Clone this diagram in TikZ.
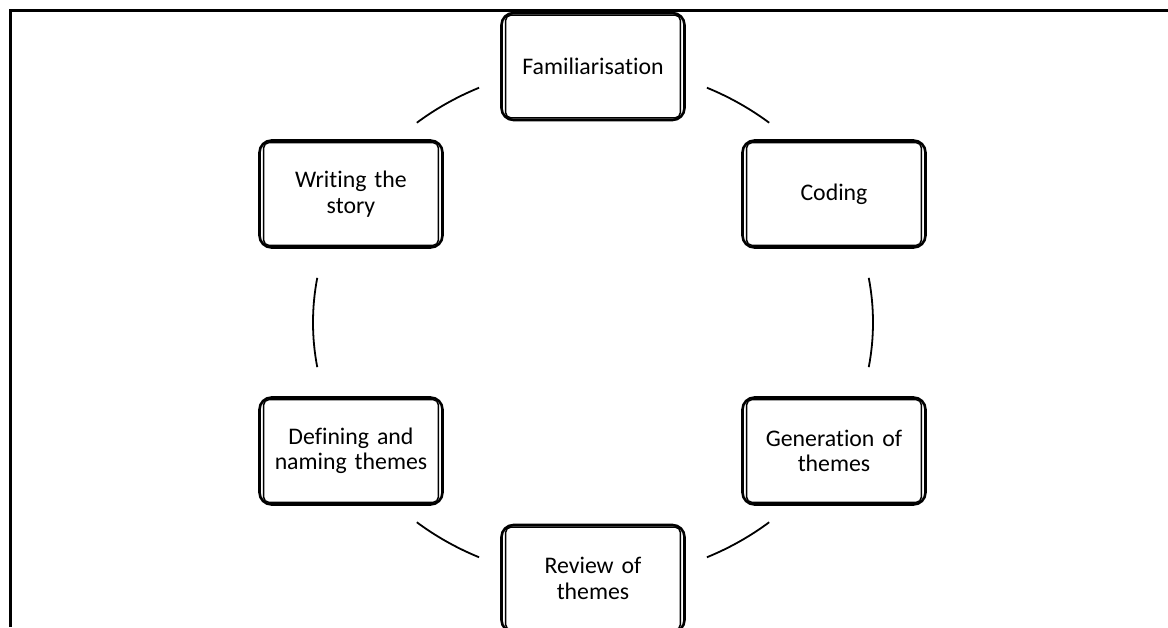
\documentclass[tikz,border=0pt]{standalone}
\usepackage{fontspec}
\setmainfont{Carlito}[Ligatures={NoCommon}]
\begin{document}
\begin{tikzpicture}[x=1pt,y=1pt,
  stage/.style={draw, line width=2.6pt, rounded corners=12pt,
    minimum width=183pt, minimum height=107pt, inner sep=0pt,
    text width=178pt, align=center,
    font=\fontsize{23.8}{25.5}\selectfont},
  innerline/.style={line width=1.5pt, rounded corners=5pt},
  link/.style={line width=1.8pt},
  frame/.style={line width=2.7pt, line join=miter}]
\useasboundingbox (0,0) rectangle (1168,627);
\clip (0,0) rectangle (1168,627);
\draw[frame] (10.7,0) -- (10.7,616.3) -- (1168,616.3);
\coordinate (O) at (593,304.5);
\node[stage] (fam) at (593,560.5) {Familiarisation};
\node[stage] (cod) at (834,433) {Coding};
\node[stage] (gen) at (834,176) {Generation of\\themes};
\node[stage] (rev) at (593,48.5) {Review of\\themes};
\node[stage] (def) at (351,176) {Defining and\\naming themes};
\node[stage] (wri) at (351,433) {Writing the\\story};
\foreach \n in {fam,cod,gen,rev,def,wri}{
  \draw[innerline] ([shift={(5.5,-3.5)}]\n.north west) rectangle ([shift={(-5.5,3.5)}]\n.south east);
}
\draw[link] ([shift={(66:280 and 257)}]O) arc[start angle=66, end angle=51, x radius=280, y radius=257];
\draw[link] ([shift={(10:280 and 257)}]O) arc[start angle=10, end angle=-10, x radius=280, y radius=257];
\draw[link] ([shift={(-51:280 and 257)}]O) arc[start angle=-51, end angle=-66, x radius=280, y radius=257];
\draw[link] ([shift={(-114:280 and 257)}]O) arc[start angle=-114, end angle=-129, x radius=280, y radius=257];
\draw[link] ([shift={(170:280 and 257)}]O) arc[start angle=170, end angle=190, x radius=280, y radius=257];
\draw[link] ([shift={(114:280 and 257)}]O) arc[start angle=114, end angle=129, x radius=280, y radius=257];
\end{tikzpicture}
\end{document}
